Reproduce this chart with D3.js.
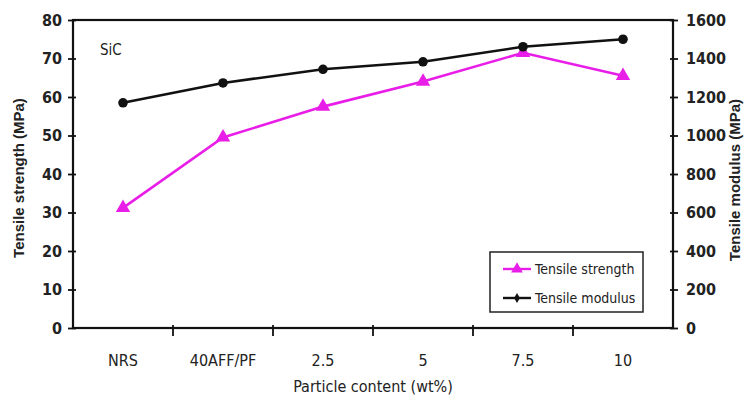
<!DOCTYPE html>
<html><head><meta charset="utf-8">
<script src="https://cdn.jsdelivr.net/npm/d3@7"></script>
<style>
body{margin:0;background:#fff;}
svg text{fill:#222;}
.narrow{font-family:"Liberation Sans Narrow","Arial Narrow","DejaVu Sans Condensed","DejaVu Sans",sans-serif;font-stretch:condensed;}
</style></head>
<body><svg id="c" width="745" height="398"></svg>
<script>
const categories = ["NRS","40AFF/PF","2.5","5","7.5","10"];
const categoryLabels = ["NRS","40AFF/PF","2.5","5","7.5","10"];
const tensileStrength = [31.2, 49.5, 57.5, 64, 71.5, 65.5];
const tensileModulus = [1170, 1273, 1344, 1383, 1461, 1500];
const leftTicks = [0,10,20,30,40,50,60,70,80];
const rightTicks = [0,200,400,600,800,1000,1200,1400,1600];

const svg = d3.select("#c");
const m = {l:73, r:673, t:20, b:328};
const x = d3.scaleBand().domain(categories).range([m.l, m.r]);
const yL = d3.scaleLinear().domain([0,80]).range([m.b, m.t]);
const yR = d3.scaleLinear().domain([0,1600]).range([m.b, m.t]);
const cx = d => x(d) + x.bandwidth()/2;

// frame
svg.append("rect").attr("x",m.l).attr("y",m.t).attr("width",m.r-m.l).attr("height",m.b-m.t)
  .attr("fill","none").attr("stroke","#111").attr("stroke-width",2.2);

// left axis
const gL = svg.append("g").attr("transform",`translate(${m.l},0)`)
  .call(d3.axisLeft(yL).tickValues(leftTicks).tickFormat(d3.format("d")).tickSize(5).tickPadding(6));
gL.selectAll(".tick line").clone().attr("x2",3);
// right axis
const gR = svg.append("g").attr("transform",`translate(${m.r},0)`)
  .call(d3.axisRight(yR).tickValues(rightTicks).tickFormat(d3.format("d")).tickSize(5).tickPadding(8));
gR.selectAll(".tick line").clone().attr("x2",-3);
[gL,gR].forEach(g=>{
  g.select(".domain").remove();
  g.selectAll(".tick line").attr("stroke","#111").attr("stroke-width",1.8);
  g.selectAll(".tick text").attr("class","narrow").style("font-size","16px").style("font-weight","bold").attr("fill","#333");
});

// bottom axis: ticks at band boundaries
const gB = svg.append("g").attr("transform",`translate(0,${m.b})`);
const bounds = categories.slice(1).map(c => x(c));
gB.selectAll("line").data(bounds).join("line")
  .attr("x1",d=>d).attr("x2",d=>d).attr("y1",-3).attr("y2",8)
  .attr("stroke","#111").attr("stroke-width",1.8);
gB.selectAll("text").data(categories).join("text")
  .attr("class","narrow").attr("x",d=>cx(d)).attr("y",38)
  .attr("text-anchor","middle").style("font-size","16px").attr("fill","#333")
  .text((d,i)=>categoryLabels[i]);

// axis titles
svg.append("text").attr("transform","translate(24,178) rotate(-90)")
  .attr("text-anchor","middle").style("font-family","Liberation Sans, Arial, sans-serif")
  .style("font-size","15px").style("font-weight","bold").text("Tensile strength (MPa)");
svg.append("text").attr("transform","translate(740,180) rotate(-90)")
  .attr("text-anchor","middle").style("font-family","Liberation Sans, Arial, sans-serif")
  .style("font-size","15px").style("font-weight","bold").text("Tensile modulus (MPa)");
svg.append("text").attr("class","narrow").attr("x",373).attr("y",392)
  .attr("text-anchor","middle").style("font-size","16px").attr("fill","#333").text("Particle content (wt%)");

svg.append("text").attr("class","narrow").attr("x",100).attr("y",55)
  .style("font-size","15px").attr("fill","#333").text("SiC");

const magenta = "#e81ee8";
// lines
svg.append("path").datum(categories.map((c,i)=>[cx(c), yL(tensileStrength[i])]))
  .attr("d", d3.line()).attr("fill","none").attr("stroke",magenta).attr("stroke-width",2.6);
svg.append("path").datum(categories.map((c,i)=>[cx(c), yR(tensileModulus[i])]))
  .attr("d", d3.line()).attr("fill","none").attr("stroke","#111").attr("stroke-width",2.6);

const tri = d3.symbol().type(d3.symbolTriangle).size(90);
svg.selectAll(".tri").data(categories).join("path").attr("class","tri")
  .attr("d",tri).attr("fill",magenta)
  .attr("transform",(c,i)=>`translate(${cx(c)},${yL(tensileStrength[i])})`);
svg.selectAll(".dot").data(categories).join("circle").attr("class","dot")
  .attr("cx",c=>cx(c)).attr("cy",(c,i)=>yR(tensileModulus[i])).attr("r",4.8).attr("fill","#111");

// legend
const lg = svg.append("g");
lg.append("rect").attr("x",490).attr("y",252).attr("width",153).attr("height",60)
  .attr("fill","#fff").attr("stroke","#222").attr("stroke-width",1.5);
const items = [{name:"Tensile strength", color:magenta, sym:"tri"},{name:"Tensile modulus", color:"#111", sym:"dot"}];
items.forEach((it,i)=>{
  const yy = 269 + i*29;
  lg.append("line").attr("x1",503).attr("x2",531).attr("y1",yy).attr("y2",yy)
    .attr("stroke",it.color).attr("stroke-width",2.4);
  if(it.sym==="tri") lg.append("path").attr("d",d3.symbol().type(d3.symbolTriangle).size(60)).attr("fill",it.color).attr("transform",`translate(517,${yy})`);
  else lg.append("path").attr("d",d3.symbol().type(d3.symbolDiamond).size(30)).attr("fill",it.color).attr("transform",`translate(517,${yy})`);
  lg.append("text").attr("class","narrow").attr("x",535).attr("y",yy+5)
    .style("font-size","14px").attr("fill","#333").text(it.name);
});
</script></body></html>
